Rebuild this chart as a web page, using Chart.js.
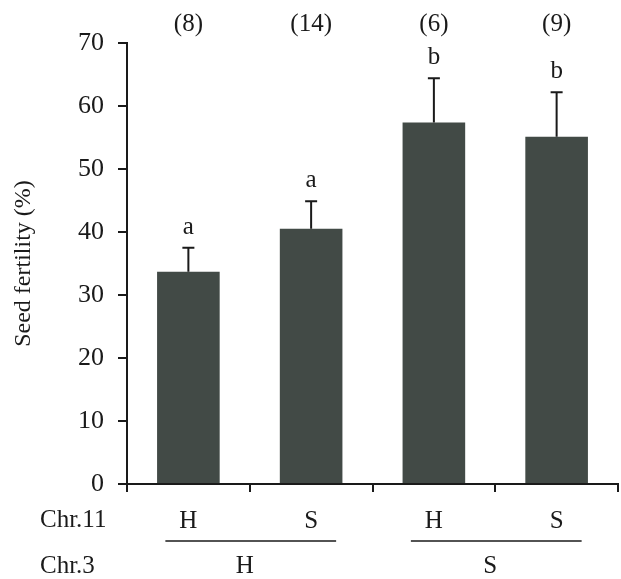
<!DOCTYPE html>
<html lang="en">
<head>
    <meta charset="UTF-8">
    <title>Seed fertility</title>
    <script src="https://cdn.jsdelivr.net/npm/chart.js"></script>
    <style>
        body { margin: 0; background: #ffffff; }
        #wrap { width: 621px; height: 579px; }
    </style>
</head>
<body>
    <div id="wrap"><canvas id="chart" width="621" height="579"></canvas></div>

    <script>
        // Data
        const chr11 = ['H', 'S', 'H', 'S'];
        const chr3Groups = ['H', 'S'];
        const fertility = [33.7, 40.5, 57.4, 55.1];
        const errorTop = [37.5, 44.9, 64.4, 62.2];
        const letters = ['a', 'a', 'b', 'b'];
        const counts = ['(8)', '(14)', '(6)', '(9)'];
        const yTicks = [0, 10, 20, 30, 40, 50, 60, 70];

        const serif = '"Liberation Serif", "Times New Roman", serif';
        const ink = '#1a1a1a';

        // error bars, letters, counts and the Chr rows under the axis
        const extras = {
            id: 'extras',
            afterDatasetsDraw(chart) {
                const ctx = chart.ctx;
                const x = chart.scales.x, y = chart.scales.y;
                ctx.save();
                ctx.strokeStyle = ink;
                ctx.fillStyle = ink;
                ctx.lineWidth = 2;
                ctx.textAlign = 'center';

                fertility.forEach((v, i) => {
                    const cx = x.getPixelForValue(i);
                    const y0 = y.getPixelForValue(v);
                    const y1 = y.getPixelForValue(errorTop[i]);
                    ctx.beginPath();
                    ctx.moveTo(cx, y0);
                    ctx.lineTo(cx, y1);
                    ctx.moveTo(cx - 6, y1);
                    ctx.lineTo(cx + 6, y1);
                    ctx.stroke();

                    ctx.font = '25px ' + serif;
                    ctx.textBaseline = 'bottom';
                    ctx.fillText(letters[i], cx, y1 - 8);

                    ctx.textBaseline = 'middle';
                    ctx.fillText(counts[i], cx, 24);
                });

                // Chr rows
                ctx.font = '25px ' + serif;
                ctx.textAlign = 'left';
                ctx.textBaseline = 'middle';
                ctx.fillText('Chr.11', 40, 520);
                ctx.fillText('Chr.3', 40, 566);

                ctx.textAlign = 'center';
                ctx.lineWidth = 1.5;
                chr3Groups.forEach((g, k) => {
                    const a = x.getPixelForValue(k * 2);
                    const b = x.getPixelForValue(k * 2 + 1);
                    ctx.beginPath();
                    ctx.moveTo(a - 23, 541);
                    ctx.lineTo(b + 25, 541);
                    ctx.stroke();
                    ctx.fillText(g, (a + b) / 2 - 5, 566);
                });
                ctx.restore();
            }
        };

        new Chart(document.getElementById('chart'), {
            type: 'bar',
            data: {
                labels: chr11,
                datasets: [{
                    data: fertility,
                    backgroundColor: '#424a46',
                    borderWidth: 0,
                    barPercentage: 0.51,
                    categoryPercentage: 1.0
                }]
            },
            options: {
                responsive: false,
                animation: false,
                events: [],
                layout: { padding: { left: 0, right: 3, top: 43, bottom: 0 } },
                plugins: { legend: { display: false }, tooltip: { enabled: false } },
                scales: {
                    x: {
                        offset: true,
                        border: { color: ink, width: 2 },
                        grid: {
                            offset: true,
                            drawOnChartArea: false,
                            color: ink,
                            lineWidth: 2,
                            tickLength: 8
                        },
                        ticks: {
                            color: ink,
                            padding: 14,
                            font: { family: serif, size: 25 }
                        },
                        afterFit(scale) { scale.height = 95; }
                    },
                    y: {
                        min: 0,
                        max: 70,
                        afterBuildTicks(scale) { scale.ticks = yTicks.map(v => ({ value: v })); },
                        border: { color: ink, width: 2 },
                        grid: {
                            drawOnChartArea: false,
                            color: ink,
                            lineWidth: 2,
                            tickLength: 9
                        },
                        ticks: {
                            color: ink,
                            padding: 14,
                            font: { family: serif, size: 26 }
                        },
                        title: {
                            display: true,
                            text: 'Seed fertility (%)',
                            color: ink,
                            padding: { top: 9, bottom: 0 },
                            font: { family: serif, size: 24 }
                        },
                        afterFit(scale) { scale.width = 127; }
                    }
                }
            },
            plugins: [extras]
        });
    </script>
</body>
</html>
